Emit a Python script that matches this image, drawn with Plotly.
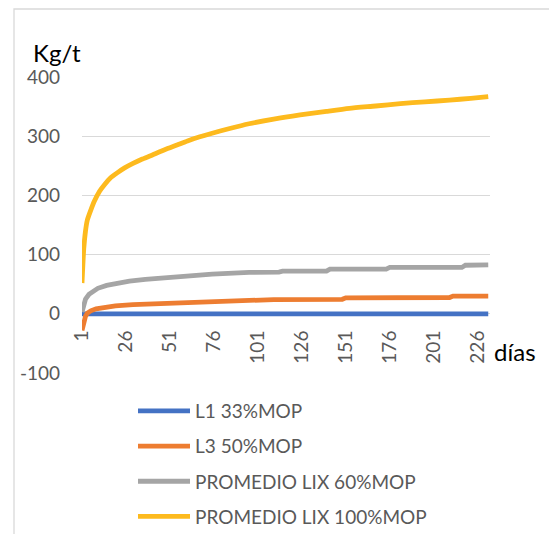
import plotly.graph_objects as go

# ---- data ----
tick_days = [1, 26, 51, 76, 101, 126, 151, 176, 201, 226]
tick_labels = ["1", "26", "51", "76", "101", "126", "151", "176", "201", "226"]

l1_days = [1, 60, 120, 180, 232]
l1_vals = [0, 0, 0, 0, 0]

l3_days = [1, 2, 3, 4, 6, 9, 13, 20, 30, 45, 60, 75, 90, 110, 149, 151, 210, 212, 232]
l3_vals = [-28, -12, -4, 1, 5, 8.5, 11, 13.5, 15.5, 17, 19, 21, 22.5, 24, 24.5, 27, 27.5, 30, 30]

p60_days = [1, 2, 3, 5, 7, 10, 15, 20, 28, 37, 47, 57, 66, 75, 85, 96, 113, 115, 140, 142, 174, 176, 217, 219, 232]
p60_vals = [3, 18, 25, 33, 38, 43, 48, 51, 55, 58, 61, 63, 65, 67, 68.5, 70, 70.5, 72, 72, 75.5, 75.5, 78.3, 78.3, 82, 82.5]

p100_days = [1, 2, 3, 4, 6, 8, 11, 14, 17, 21, 25, 30, 35, 40, 48, 55, 61, 68, 75, 85, 96,
             110, 125, 140, 153, 168, 182, 196, 210, 222, 232]
p100_vals = [52, 110, 140, 158, 175, 190, 207, 219, 229, 238, 246, 254, 261, 267, 277, 285, 292, 299,
             305, 313, 321, 329, 336, 342, 347, 351, 355, 358, 361, 364, 367]

series_names = ["L1 33%MOP", "L3 50%MOP", "PROMEDIO LIX 60%MOP", "PROMEDIO LIX 100%MOP"]
series_colors = ["#4472C4", "#ED7D31", "#A5A5A5", "#FDBA1E"]
series_shapes = ["linear", "linear", "linear", "spline"]

y_ticks = [-100, 0, 100, 200, 300, 400]
y_tick_labels = ["-100", "0", "100", "200", "300", "400"]

# ---- figure (page has an 8px body margin, compensated here) ----
OFF = 8
W, H = 557 - OFF, 534 - OFF
PLOT_L, PLOT_R, PLOT_T, PLOT_B = 82, 490, 77, 373   # page pixels of the plot area
L, T = PLOT_L - OFF, PLOT_T - OFF
R, B = W - (PLOT_R - OFF), H - (PLOT_B - OFF)
PW, PH = PLOT_R - PLOT_L, PLOT_B - PLOT_T

def px_x(px):
    return (px - PLOT_L) / PW

def px_y(py):
    return (PLOT_B - py) / PH

fig = go.Figure()
for days, vals, name, color, shp in zip(
    [l1_days, l3_days, p60_days, p100_days],
    [l1_vals, l3_vals, p60_vals, p100_vals],
    series_names, series_colors, series_shapes):
    line = dict(color=color, width=4.8, shape=shp)
    if shp == "spline":
        line["smoothing"] = 0.6
    fig.add_trace(go.Scatter(
        x=days, y=vals, mode="lines", name=name, legendgroup=name, line=line,
    ))

ymin, ymax = y_ticks[0], y_ticks[-1]
fig.update_layout(
    width=W, height=H,
    margin=dict(l=L, r=R, t=T, b=B, pad=0, autoexpand=False),
    paper_bgcolor="white", plot_bgcolor="white",
    font=dict(family="Lato", size=19, color="#595959"),
    showlegend=True,
    legend=dict(
        x=px_x(133), y=px_y(392), xanchor="left", yanchor="top",
        font=dict(size=19, color="#595959"),
        tracegroupgap=7.5, itemwidth=52,
        bgcolor="rgba(0,0,0,0)",
    ),
    xaxis=dict(
        range=[1, 233], tickvals=tick_days, ticktext=tick_labels,
        tickangle=-90, showgrid=False, zeroline=False, showline=False,
        anchor="free", position=(0 - ymin) / (ymax - ymin),
        ticks="", ticklabelstandoff=12, automargin=False,
        tickfont=dict(size=19, color="#595959"),
    ),
    yaxis=dict(
        range=[ymin, ymax], tickvals=y_ticks, ticktext=y_tick_labels,
        showgrid=True, gridcolor="#D9D9D9", gridwidth=1.3,
        zeroline=False, showline=False, ticks="", automargin=False,
        ticklabelstandoff=21,
        tickfont=dict(size=19, color="#595959"),
    ),
    shapes=[dict(
        type="rect", xref="paper", yref="paper",
        x0=px_x(14), x1=px_x(600), y0=px_y(600), y1=px_y(9),
        line=dict(color="#D9D9D9", width=1.3), fillcolor="rgba(0,0,0,0)", layer="below",
    )],
    annotations=[
        dict(text="Kg/t", xref="paper", yref="paper", x=px_x(57), y=px_y(52),
             xanchor="center", yanchor="middle", showarrow=False,
             font=dict(size=24, color="#000000")),
        dict(text="días", xref="paper", yref="paper", x=px_x(492), y=px_y(351),
             xanchor="left", yanchor="middle", showarrow=False,
             font=dict(size=24, color="#000000")),
    ],
)

fig.write_html("out.html")
